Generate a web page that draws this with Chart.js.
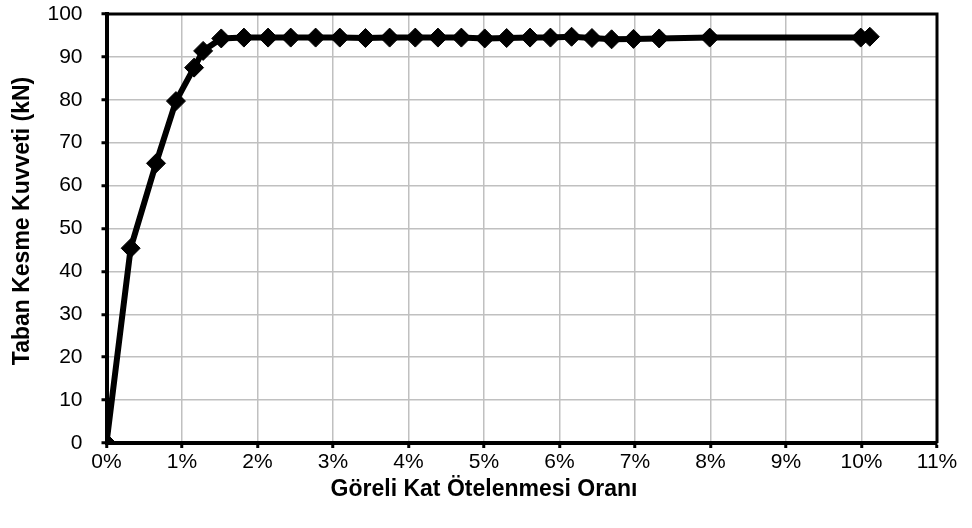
<!DOCTYPE html>
<html>
<head>
<meta charset="utf-8">
<script src="https://cdn.jsdelivr.net/npm/chart.js@4/dist/chart.umd.min.js"></script>
<style>
  html, body { margin: 0; padding: 0; background: #fff; }
  #c { display: block; }
</style>
</head>
<body>
<canvas id="c" width="972" height="528"></canvas>
<script>
// Drift ratio (%) and base shear (kN)
const driftRatio = [0, 0.32, 0.656, 0.92, 1.16, 1.28, 1.52, 1.82, 2.14, 2.44, 2.77, 3.09, 3.43, 3.75, 4.09, 4.39, 4.70, 5.01, 5.30, 5.61, 5.88, 6.16, 6.43, 6.69, 6.98, 7.32, 7.99, 9.99, 10.11];
const baseShear  = [0, 45.4, 65.2, 79.7, 87.5, 91.4, 94.3, 94.5, 94.5, 94.5, 94.5, 94.5, 94.4, 94.5, 94.5, 94.5, 94.5, 94.3, 94.4, 94.5, 94.5, 94.7, 94.4, 94.1, 94.2, 94.3, 94.5, 94.5, 94.7];
const xTitle = "Göreli Kat Ötelenmesi Oranı";
const yTitle = "Taban Kesme Kuvveti (kN)";
const xMin = 0, xMax = 11, xStep = 1;
const yMin = 0, yMax = 100, yStep = 10;

const points = driftRatio.map((x, i) => ({ x: x, y: baseShear[i] }));
const FONT = "'Liberation Sans', Arial, sans-serif";

const framePlugin = {
  id: 'frame',
  afterDraw(chart) {
    const { ctx, chartArea: a } = chart;
    ctx.save();
    ctx.strokeStyle = '#000';
    ctx.lineWidth = 3;
    ctx.beginPath();
    ctx.moveTo(a.left, a.top);
    ctx.lineTo(a.right, a.top);
    ctx.lineTo(a.right, a.bottom);
    ctx.stroke();
    ctx.fillStyle = '#000';
    ctx.font = "bold 23px " + FONT;
    ctx.textAlign = 'center';
    ctx.textBaseline = 'middle';
    ctx.fillText(xTitle, 484, 490);
    ctx.translate(23, 221);
    ctx.rotate(-Math.PI / 2);
    ctx.fillText(yTitle, 0, 0);
    ctx.restore();
  }
};

new Chart(document.getElementById('c'), {
  type: 'scatter',
  data: {
    datasets: [{
      data: points,
      showLine: true,
      borderColor: '#000',
      backgroundColor: '#000',
      borderWidth: 6,
      pointStyle: 'rectRot',
      pointRadius: 9.5,
      pointBorderWidth: 1,
      pointBackgroundColor: '#000',
      pointBorderColor: '#000',
      tension: 0
    }]
  },
  options: {
    responsive: false,
    animation: false,
    devicePixelRatio: 1,
    layout: { padding: { left: 0, right: 35, top: 14, bottom: 0 } },
    plugins: { legend: { display: false }, tooltip: { enabled: false } },
    scales: {
      x: {
        type: 'linear',
        min: xMin, max: xMax,
        afterFit(s) { s.height = 85; s.paddingLeft = 0; s.paddingRight = 0; },
        ticks: {
          stepSize: xStep,
          color: '#000',
          font: { family: FONT, size: 21 },
          padding: 2,
          maxRotation: 0,
          callback: v => v + '%'
        },
        grid: { color: '#c0c0c0', lineWidth: 1.5, tickColor: '#000', tickLength: 5, tickWidth: 3 },
        border: { color: '#000', width: 4 }
      },
      y: {
        type: 'linear',
        min: yMin, max: yMax,
        afterFit(s) { s.width = 106.5; s.paddingTop = 0; s.paddingBottom = 0; },
        ticks: {
          stepSize: yStep,
          color: '#000',
          font: { family: FONT, size: 21 },
          padding: 19
        },
        grid: { color: '#c0c0c0', lineWidth: 1.5, tickColor: '#000', tickLength: 5, tickWidth: 3 },
        border: { color: '#000', width: 4 }
      }
    }
  },
  plugins: [framePlugin]
});
</script>
</body>
</html>
